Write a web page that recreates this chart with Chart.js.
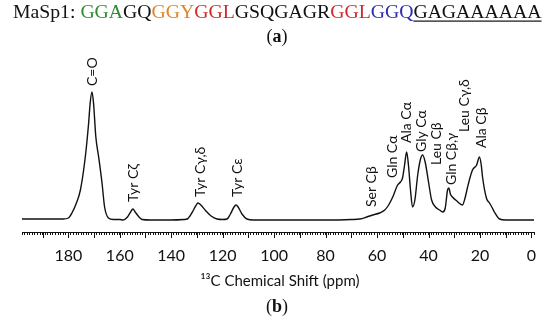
<!DOCTYPE html>
<html>
<head>
<meta charset="utf-8">
<script src="https://cdn.jsdelivr.net/npm/chart.js@4/dist/chart.umd.min.js"></script>
<style>
  html, body { margin: 0; padding: 0; background: #fff; }
  #wrap { width: 550px; height: 321px; }
</style>
</head>
<body>
<div id="wrap"><canvas id="nmr" width="550" height="321"></canvas></div>
<script>
// chemical shift (ppm) and intensity
var shiftPpm = [198, 190, 182, 180, 178.6, 177, 175.3, 173.4, 172.1, 171.5, 170.8, 170.2, 169.3, 168.2, 166.9, 165.9, 164.4, 162.5,
    160, 158.7, 157, 155.8, 154.9, 154, 152.5, 151.3, 148, 140, 135, 133.8, 132, 130.5, 129.6, 128.5, 126.5, 124.5, 122.2,
    120, 118.3, 117, 115.6, 114.8, 114, 112.5, 110.6, 108, 100, 90, 80, 70, 66.7, 64, 61.7, 59, 57, 55.5, 53.9, 52, 50.9,
    50.1, 49.3, 48.5, 47.8, 47, 46.2, 45.3, 44.2, 43.2, 42.3, 41.3, 40, 38.8, 37.3, 35.7, 34.5, 33.5, 32.6, 32.1, 31.5,
    30.7, 29, 26.8, 25.8, 24.8, 23.8, 22.9, 21.3, 20.2, 19.5, 19, 17.5, 16.3, 15.2, 14.4, 12.4, 10, 5, 0, -1];
var intensity = [1, 1, 1, 2, 7, 16, 30, 63, 97, 117, 128, 117, 83, 63, 37, 13, 2, 0.5,
    0.5, 0, 3, 8, 11, 8, 3, 0.5, 0, 0, 0.5, 1, 7, 14, 17, 15, 9, 4, 1,
    0.5, 1, 6, 13, 15, 13, 6, 1, 0, 0, 0, 0, 0.5, 1, 3, 5, 7, 10, 15, 23, 35, 38,
    42, 55, 68, 55, 30, 13, 20, 45, 60, 65, 58, 38, 20, 13, 10, 8, 12, 30, 32, 26,
    23, 19, 15, 22, 33, 43, 50, 55, 63, 55, 43, 22, 17, 12, 8, 1, 0, 0, 0, 0];

var peakNames = ['C=O', 'Tyr C\u03b6', 'Tyr C\u03b3,\u03b4', 'Tyr C\u03b5', 'Ser C\u03b2', 'Gln C\u03b1', 'Ala C\u03b1',
    'Gly C\u03b1', 'Leu C\u03b2', 'Gln C\u03b2,\u03b3', 'Leu C\u03b3,\u03b4', 'Ala C\u03b2'];
var peakPpm = [170.7, 154.8, 128.8, 114.4, 62.1, 53.9, 48.5, 42.7, 36.9, 31.0, 26.0, 19.4];

var tickLabels = [0, 20, 40, 60, 80, 100, 120, 140, 160, 180];

// label bottoms, in intensity units above the baseline
var labelLift = [134, 18, 23, 23, 13, 42, 77, 68, 55, 35, 88, 72];

var sequence = [
    ['MaSp1: ', '#111'], ['GGA', '#2e8b34'], ['GQ', '#111'], ['GGY', '#e0852a'], ['GGL', '#cf2a2a'],
    ['GSQGAGR', '#111'], ['GGL', '#cf2a2a'], ['GGQ', '#2b2fae'], ['GAGAAAAAA', '#111', true]
];

var points = shiftPpm.map(function (p, i) { return {x: p, y: intensity[i]}; });

var textPlugin = {
    id: 'nmrText',
    afterDraw: function (chart) {
        var ctx = chart.ctx;
        var xs = chart.scales.x;
        var ys = chart.scales.y;
        ctx.save();

        // sequence line
        var full = sequence.map(function (s) { return s[0]; }).join('');
        ctx.font = '20px "Liberation Serif"';
        var w = ctx.measureText(full).width;
        var size = 20 * 529 / w;
        ctx.font = size + 'px "Liberation Serif"';
        ctx.textBaseline = 'alphabetic';
        ctx.textAlign = 'left';
        var x = 13;
        sequence.forEach(function (s) {
            ctx.fillStyle = s[1];
            ctx.fillText(s[0], x, 18);
            var sw = ctx.measureText(s[0]).width;
            if (s[2]) {
                ctx.fillRect(x, 20.5, sw, 1.2);
            }
            x += sw;
        });

        // panel letters
        ctx.fillStyle = '#111';
        ctx.textAlign = 'center';
        drawPanel(ctx, 'a', 277, 42);
        drawPanel(ctx, 'b', 277, 312);

        // axis title
        ctx.font = '15px Lato';
        ctx.textBaseline = 'middle';
        ctx.fillText('\u00b9\u00b3C Chemical Shift (ppm)', 280, 281);

        // longer ticks every 10 ppm
        ctx.strokeStyle = '#111';
        ctx.lineWidth = 1;
        for (var v = 0; v <= 190; v += 10) {
            var px = Math.round(xs.getPixelForValue(v)) + 0.5;
            ctx.beginPath();
            ctx.moveTo(px, chart.chartArea.bottom);
            ctx.lineTo(px, chart.chartArea.bottom + 6);
            ctx.stroke();
        }

        // peak assignments
        ctx.font = '14px Lato';
        ctx.textAlign = 'left';
        ctx.textBaseline = 'middle';
        peakNames.forEach(function (name, i) {
            var lx = xs.getPixelForValue(peakPpm[i]);
            var ly = ys.getPixelForValue(labelLift[i]);
            ctx.save();
            ctx.translate(lx, ly);
            ctx.rotate(-Math.PI / 2);
            ctx.fillText(name, 0, 0);
            ctx.restore();
        });
        ctx.restore();
    }
};

function drawPanel(ctx, letter, cx, y) {
    ctx.font = '18px "Liberation Serif"';
    var wo = ctx.measureText('(').width;
    ctx.font = 'bold 18px "Liberation Serif"';
    var wl = ctx.measureText(letter).width;
    var left = cx - (2 * wo + wl) / 2;
    ctx.textAlign = 'left';
    ctx.font = '18px "Liberation Serif"';
    ctx.fillText('(', left, y);
    ctx.fillText(')', left + wo + wl, y);
    ctx.font = 'bold 18px "Liberation Serif"';
    ctx.fillText(letter, left + wo, y);
    ctx.textAlign = 'center';
}

new Chart(document.getElementById('nmr').getContext('2d'), {
    type: 'line',
    data: {
        datasets: [{
            data: points,
            borderColor: '#111',
            borderWidth: 1.4,
            pointRadius: 0,
            fill: false,
            cubicInterpolationMode: 'monotone'
        }]
    },
    options: {
        responsive: false,
        devicePixelRatio: 1,
        animation: false,
        layout: {padding: {top: 90, left: 22, right: 16, bottom: 0}},
        plugins: {legend: {display: false}, tooltip: {enabled: false}},
        scales: {
            x: {
                type: 'linear',
                reverse: true,
                min: -1,
                max: 198,
                afterFit: function (s) { s.height = 89; },
                border: {display: true, color: '#111', width: 1},
                grid: {drawOnChartArea: false, drawTicks: true, tickLength: 3, color: '#111'},
                ticks: {
                    stepSize: 1,
                    autoSkip: false,
                    maxRotation: 0,
                    padding: 11,
                    color: '#111',
                    font: {family: 'Lato', size: 16},
                    callback: function (v) { return tickLabels.indexOf(v) >= 0 ? String(v) : ''; }
                }
            },
            y: {
                display: false,
                min: -12,
                max: 130
            }
        }
    },
    plugins: [textPlugin]
});
</script>
</body>
</html>
